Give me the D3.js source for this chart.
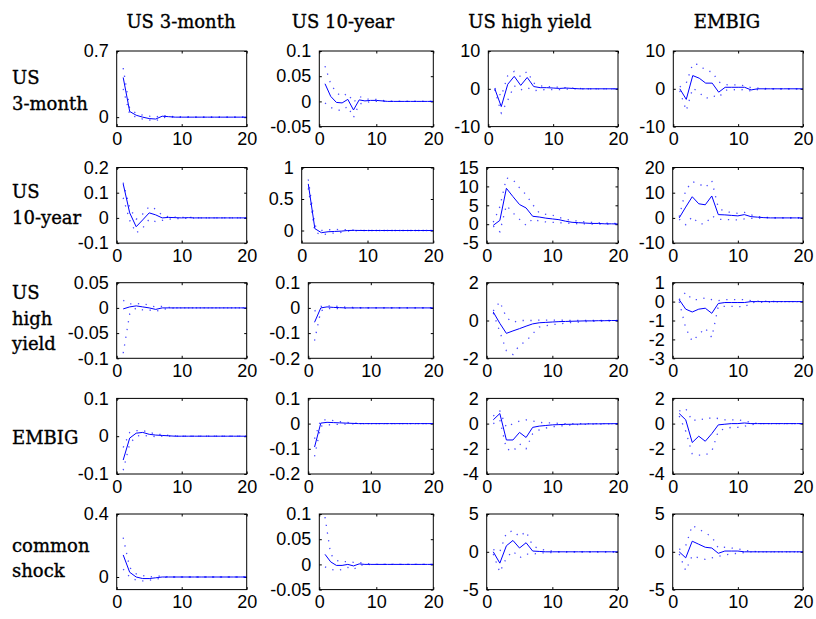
<!DOCTYPE html>
<html>
<head>
<meta charset="utf-8">
<script src="https://cdn.jsdelivr.net/npm/d3@7"></script>
<style>
	body { margin: 0; background: #fff; }
	svg { display: block; }
	.axis text { font-family: "Liberation Sans", Arial, sans-serif; font-size: 18px; fill: #000; }
	.axis line { stroke: #000; }
	.lab { font-family: "DejaVu Serif", serif; font-size: 18px; fill: #000; stroke: #000; stroke-width: 0.35px; }
</style>
</head>
<body>
<svg width="816" height="619"></svg>
<script>
// shocks (columns) and responding variables (rows)
var shocks = ["US 3-month", "US 10-year", "US high yield", "EMBIG"];
var responses = [["US", "3-month"], ["US", "10-year"], ["US", "high", "yield"], ["EMBIG"], ["common", "shock"]];
var horizon = d3.range(1, 21);
var xTicks = [0, 10, 20];

var yDomains = [
	[[-0.1, 0.7], [-0.05, 0.1], [-10, 10], [-10, 10]],
	[[-0.1, 0.2], [-0.2, 1], [-5, 15], [-10, 20]],
	[[-0.1, 0.05], [-0.2, 0.1], [-2, 2], [-3, 1]],
	[[-0.1, 0.1], [-0.2, 0.1], [-4, 2], [-4, 2]],
	[[-0.08, 0.4], [-0.05, 0.1], [-5, 5], [-5, 5]]
];
var yTicks = [
	[[0, 0.7], [-0.05, 0, 0.05, 0.1], [-10, 0, 10], [-10, 0, 10]],
	[[-0.1, 0, 0.1, 0.2], [0, 0.5, 1], [-5, 0, 5, 10, 15], [-10, 0, 10, 20]],
	[[-0.1, -0.05, 0, 0.05], [-0.2, -0.1, 0, 0.1], [-2, 0, 2], [-3, -2, -1, 0, 1]],
	[[-0.1, 0, 0.1], [-0.2, -0.1, 0, 0.1], [-4, -2, 0, 2], [-4, -2, 0, 2]],
	[[0, 0.4], [-0.05, 0, 0.05, 0.1], [-5, 0, 5], [-5, 0, 5]]
];

// row 1: US 3-month responses
var mid1 = [
	[0.42, 0.06, 0.02, 0.0, -0.015, -0.02, 0.01, 0.005, 0, 0, 0, 0, 0, 0, 0, 0, 0, 0, 0, 0],
	[0.035, 0.01, -0.002, -0.003, 0.004, -0.017, 0.003, 0.001, 0.002, 0.002, 0.001, 0, 0, 0, 0, 0, 0, 0, 0, 0],
	[0, -4.7, 1.2, 3.3, 0.9, 3.0, 0.6, 0.3, 0.3, 0.2, 0.1, 0.2, 0.1, 0, 0, 0, 0, 0, 0, 0],
	[0, -2.8, 3.5, 2.8, 1.5, 1.5, -0.9, 0.4, 0.4, 0.4, 0.4, -0.3, 0, 0, 0, 0, 0, 0, 0, 0]
];
var hi1 = [
	[0.52, 0.09, 0.04, 0.02, 0.01, 0.0, 0.02, 0.01, 0.005, 0.003, 0.002, 0.001, 0, 0, 0, 0, 0, 0, 0, 0],
	[0.07, 0.035, 0.017, 0.01, 0.016, -0.002, 0.01, 0.005, 0.004, 0.004, 0.002, 0.001, 0, 0, 0, 0, 0, 0, 0, 0],
	[0.2, -2, 3.5, 4.6, 3.2, 4.6, 1.5, 0.8, 0.6, 0.5, 0.4, 0.3, 0.2, 0.1, 0, 0, 0, 0, 0, 0],
	[0.5, 1.5, 6.6, 6.4, 4.8, 4.5, 1.8, 1.1, 1.0, 1.1, 0.8, 0.3, 0.2, 0.1, 0, 0, 0, 0, 0, 0]
];
var lo1 = [
	[0.30, 0.03, 0.0, -0.02, -0.03, -0.04, -0.005, 0, 0, 0, 0, 0, 0, 0, 0, 0, 0, 0, 0, 0],
	[-0.003, -0.012, -0.017, -0.018, -0.01, -0.032, -0.005, -0.003, 0, 0, 0, 0, 0, 0, 0, 0, 0, 0, 0, 0],
	[-0.2, -6.4, -3, 0.8, -0.3, 0.3, -0.5, -0.3, -0.2, -0.2, -0.2, -0.1, 0, 0, 0, 0, 0, 0, 0, 0],
	[-0.5, -5.8, 0.2, -1.0, -2.6, -1.8, -2.3, -0.4, -0.2, -0.3, -0.2, -0.6, -0.2, -0.1, 0, 0, 0, 0, 0, 0]
];

// row 2: US 10-year responses
var mid2 = [
	[0.135, 0.02, -0.035, -0.008, 0.02, 0.012, 0.0, 0.002, 0.001, 0, 0.001, 0, 0, 0, 0, 0, 0, 0, 0, 0],
	[0.74, 0.03, -0.035, -0.02, -0.015, -0.01, 0.0, 0.002, 0, 0, 0, 0, 0, 0, 0, 0, 0, 0, 0, 0],
	[-0.3, 1.0, 9.5, 7.3, 5.2, 4.3, 2.1, 1.9, 1.6, 1.4, 1.2, 0.8, 0.5, 0.4, 0.3, 0.2, 0.2, 0.1, 0.1, 0.05],
	[0, 4.3, 8.4, 5.6, 5.2, 8.7, 1.3, 1.2, 1.0, 0.8, 1.3, 0.5, 0.3, 0.1, 0, 0, 0, 0, 0, 0]
];
var hi2 = [
	[0.14, 0.04, -0.005, 0.015, 0.045, 0.035, 0.01, 0.005, 0.003, 0.002, 0.002, 0.001, 0, 0, 0, 0, 0, 0, 0, 0],
	[0.81, 0.08, 0.0, 0.01, 0.02, 0.01, 0.015, 0.005, 0.003, 0, 0, 0, 0, 0, 0, 0, 0, 0, 0, 0],
	[0.5, 4.6, 12.2, 11.8, 9.6, 7.8, 5.2, 3.0, 2.6, 2.4, 1.8, 1.3, 1.0, 0.8, 0.6, 0.5, 0.4, 0.3, 0.2, 0.2],
	[0.5, 11, 14.4, 13.6, 12, 14.8, 4, 2.5, 2.2, 1.8, 2.2, 1.2, 0.6, 0.3, 0.1, 0, 0, 0, 0, 0]
];
var lo2 = [
	[0.08, -0.01, -0.06, -0.04, -0.005, -0.015, -0.01, -0.005, -0.003, -0.002, -0.002, -0.001, 0, 0, 0, 0, 0, 0, 0, 0],
	[0.67, -0.02, -0.07, -0.05, -0.04, -0.03, -0.01, -0.005, 0, 0, 0, 0, 0, 0, 0, 0, 0, 0, 0, 0],
	[-0.5, -2.0, 5.0, 3.0, 1.3, -0.3, 1.4, 0.8, 0.6, 0.5, 0.4, 0.3, 0.2, 0.1, 0.1, 0, 0, 0, 0, 0],
	[-0.5, -2.7, 0.5, -2.3, -2.4, 0.8, -0.6, -0.6, -0.7, -0.8, -0.4, -0.2, -0.1, 0, 0, 0, 0, 0, 0, 0]
];

// row 3: US high yield responses
var mid3 = [
	[-0.002, 0.002, 0.004, 0.002, 0, -0.003, 0, 0, 0, 0, 0, 0, 0, 0, 0, 0, 0, 0, 0, 0],
	[-0.057, 0.0, 0.004, 0.002, 0.001, 0, 0, 0, 0, 0, 0, 0, 0, 0, 0, 0, 0, 0, 0, 0],
	[0.45, -0.15, -0.68, -0.55, -0.43, -0.3, -0.18, -0.12, -0.1, -0.08, -0.06, -0.05, -0.04, -0.03, -0.02, -0.02, -0.01, -0.01, 0, 0],
	[0.1, -0.4, -0.55, -0.4, -0.35, -0.62, -0.1, -0.05, -0.05, -0.05, -0.05, 0, 0, 0, 0, 0, 0, 0, 0, 0]
];
var hi3 = [
	[0.015, 0.008, 0.008, 0.009, 0.005, 0.002, 0.003, 0.001, 0, 0, 0, 0, 0, 0, 0, 0, 0, 0, 0, 0],
	[-0.013, 0.006, 0.008, 0.008, 0.005, 0.003, 0.002, 0.001, 0, 0, 0, 0, 0, 0, 0, 0, 0, 0, 0, 0],
	[0.5, 1.0, 0.15, -0.1, 0.0, 0.0, 0.0, 0.02, 0.02, 0.02, 0.02, 0.01, 0.01, 0.01, 0.01, 0.01, 0, 0, 0, 0],
	[0.1, 0.5, 0.1, 0.1, 0.2, 0.1, 0.05, 0.1, 0.1, 0.1, 0.1, 0.05, 0.03, 0.02, 0.01, 0, 0, 0, 0, 0]
];
var lo3 = [
	[-0.09, -0.012, 0.0, -0.004, -0.004, -0.007, -0.003, -0.001, 0, 0, 0, 0, 0, 0, 0, 0, 0, 0, 0, 0],
	[-0.13, -0.012, -0.002, -0.003, -0.003, -0.002, -0.001, 0, 0, 0, 0, 0, 0, 0, 0, 0, 0, 0, 0, 0],
	[0.4, -0.6, -1.6, -1.8, -1.3, -1.1, -0.7, -0.35, -0.28, -0.22, -0.18, -0.14, -0.1, -0.08, -0.06, -0.05, -0.04, -0.03, -0.02, -0.02],
	[0.0, -1.4, -2.1, -1.75, -1.4, -1.9, -0.25, -0.25, -0.25, -0.25, -0.3, -0.05, -0.04, -0.03, -0.02, -0.01, 0, 0, 0, 0]
];

// row 4: EMBIG responses
var mid4 = [
	[-0.063, -0.005, 0.008, 0.01, 0.005, 0.003, 0.002, 0.001, 0, 0, 0, 0, 0, 0, 0, 0, 0, 0, 0, 0],
	[-0.093, 0.002, 0.005, 0.004, 0.003, 0.002, 0.001, 0, 0, 0, 0, 0, 0, 0, 0, 0, 0, 0, 0, 0],
	[0.3, 0.8, -1.3, -1.3, -0.7, -1.1, -0.3, -0.2, -0.15, -0.1, -0.08, -0.06, -0.05, -0.04, -0.03, -0.02, -0.02, -0.01, -0.01, 0],
	[0.8, 0.3, -1.5, -1.0, -1.4, -0.8, -0.1, -0.05, 0, 0, 0.05, 0, 0, 0, 0, 0, 0, 0, 0, 0]
];
var hi4 = [
	[-0.03, 0.01, 0.015, 0.015, 0.01, 0.006, 0.004, 0.002, 0.001, 0, 0, 0, 0, 0, 0, 0, 0, 0, 0, 0],
	[-0.06, 0.015, 0.015, 0.012, 0.008, 0.005, 0.003, 0.001, 0, 0, 0, 0, 0, 0, 0, 0, 0, 0, 0, 0],
	[0.6, 1.0, -0.3, 0.0, 0.2, 0.3, 0.2, 0.1, 0.05, 0.05, 0.02, 0, 0, 0, 0, 0, 0, 0, 0, 0],
	[1.0, 1.2, 0.2, 0.4, 0.3, 0.5, 0.4, 0.3, 0.3, 0.3, 0.2, 0.1, 0, 0, 0, 0, 0, 0, 0, 0]
];
var lo4 = [
	[-0.09, -0.02, 0.0, 0.003, 0.0, -0.001, 0, 0, 0, 0, 0, 0, 0, 0, 0, 0, 0, 0, 0, 0],
	[-0.13, -0.01, -0.005, -0.004, -0.003, -0.002, -0.001, 0, 0, 0, 0, 0, 0, 0, 0, 0, 0, 0, 0, 0],
	[0.0, 0.3, -2.0, -2.2, -1.6, -2.0, -0.8, -0.5, -0.35, -0.25, -0.2, -0.15, -0.1, -0.08, -0.06, -0.05, -0.04, -0.03, -0.02, -0.01],
	[0.6, -0.6, -2.4, -2.5, -2.5, -2.2, -0.6, -0.4, -0.3, -0.3, -0.2, -0.1, 0, 0, 0, 0, 0, 0, 0, 0]
];

// row 5: common shock responses
var mid5 = [
	[0.14, 0.03, 0.0, -0.01, -0.01, -0.005, 0, 0, 0, 0, 0, 0, 0, 0, 0, 0, 0, 0, 0, 0],
	[0.02, 0.005, -0.002, -0.002, 0.0, -0.003, 0.001, 0, 0, 0, 0, 0, 0, 0, 0, 0, 0, 0, 0, 0],
	[0, -1.5, 0.8, 1.5, 0.5, 1.2, 0.1, 0.05, 0, 0, 0, 0, 0, 0, 0, 0, 0, 0, 0, 0],
	[0, -0.8, 1.4, 1.0, 0.6, 0.5, -0.2, 0.1, 0.1, 0.1, 0, 0, 0, 0, 0, 0, 0, 0, 0, 0]
];
var hi5 = [
	[0.25, 0.06, 0.02, 0.01, 0.0, 0.005, 0.005, 0, 0, 0, 0, 0, 0, 0, 0, 0, 0, 0, 0, 0],
	[0.094, 0.02, 0.008, 0.005, 0.006, 0.004, 0.004, 0.002, 0.001, 0, 0, 0, 0, 0, 0, 0, 0, 0, 0, 0],
	[0.3, 0.0, 2.5, 2.8, 2.0, 2.7, 0.8, 0.4, 0.2, 0.1, 0, 0, 0, 0, 0, 0, 0, 0, 0, 0],
	[0.3, 0.8, 3.5, 3.0, 2.5, 2.0, 0.5, 0.6, 0.5, 0.4, 0.2, 0.1, 0, 0, 0, 0, 0, 0, 0, 0]
];
var lo5 = [
	[0.05, 0.0, -0.02, -0.025, -0.02, -0.015, -0.005, 0, 0, 0, 0, 0, 0, 0, 0, 0, 0, 0, 0, 0],
	[-0.005, -0.01, -0.012, -0.01, -0.006, -0.01, -0.002, -0.001, 0, 0, 0, 0, 0, 0, 0, 0, 0, 0, 0, 0],
	[-0.3, -2.7, -0.8, 0.1, -0.8, -0.3, -0.3, -0.2, -0.1, -0.1, 0, 0, 0, 0, 0, 0, 0, 0, 0, 0],
	[-0.3, -2.5, -0.5, -0.8, -1.0, -0.8, -0.6, -0.4, -0.3, -0.2, -0.1, 0, 0, 0, 0, 0, 0, 0, 0, 0]
];

var mids = [mid1, mid2, mid3, mid4, mid5];
var his = [hi1, hi2, hi3, hi4, hi5];
var los = [lo1, lo2, lo3, lo4, lo5];

// layout of the axes boxes
var rowTop = [51, 167.5, 282.7, 398.4, 514];
var boxH = 75.6;
var colRight = [246.7, 433.3, 618, 803];
var colLeft = [
	[116.7, 319.3, 488.3, 673.3],
	[116.7, 301.7, 486.7, 672.7],
	[116.7, 308.3, 486.7, 672.7],
	[116.7, 308.3, 486.7, 672.7],
	[116.7, 319.3, 486.7, 672.7]
];
var titleX = [181, 343, 530, 727];
var labelBase = [[84, 110], [198, 224], [299, 325, 350], [444], [552, 577]];

function drawPanels() {
	var svg = d3.select("svg");
	var fmt = function(d) { return String(d); };

	// column titles
	svg.selectAll("text.title")
		.data(shocks)
		.enter().append("text")
		.attr("class", "lab title")
		.attr("x", function(d, i) { return titleX[i]; })
		.attr("y", 28)
		.attr("text-anchor", "middle")
		.text(function(d) { return d; });

	// row labels
	responses.forEach(function(lines, r) {
		lines.forEach(function(t, j) {
			svg.append("text")
				.attr("class", "lab")
				.attr("x", 12)
				.attr("y", labelBase[r][j])
				.text(t);
		});
	});

	var line = d3.line();

	for (var r = 0; r < 5; r++) {
		for (var c = 0; c < 4; c++) {
			var x0 = colLeft[r][c], x1 = colRight[c];
			var y0 = rowTop[r], y1 = y0 + boxH;
			var x = d3.scaleLinear().domain([0, 20]).range([x0, x1]);
			var y = d3.scaleLinear().domain(yDomains[r][c]).range([y1, y0]);
			var g = svg.append("g");

			// axes with inward ticks, MATLAB style
			g.append("g").attr("class", "axis")
				.attr("transform", "translate(" + x0 + ",0)")
				.call(d3.axisLeft(y).tickValues(yTicks[r][c]).tickSizeInner(-2.5).tickSizeOuter(0).tickPadding(8).tickFormat(fmt))
				.call(function(a) { a.select(".domain").remove(); });
			g.append("g").attr("class", "axis")
				.attr("transform", "translate(" + x1 + ",0)")
				.call(d3.axisRight(y).tickValues(yTicks[r][c]).tickSizeInner(-2.5).tickSizeOuter(0).tickFormat(""))
				.call(function(a) { a.select(".domain").remove(); });
			g.append("g").attr("class", "axis")
				.attr("transform", "translate(0," + y1 + ")")
				.call(d3.axisBottom(x).tickValues(xTicks).tickSizeInner(-2.5).tickSizeOuter(0).tickPadding(6).tickFormat(fmt))
				.call(function(a) { a.select(".domain").remove(); });
			g.append("g").attr("class", "axis")
				.attr("transform", "translate(0," + y0 + ")")
				.call(d3.axisTop(x).tickValues(xTicks).tickSizeInner(-2.5).tickSizeOuter(0).tickFormat(""))
				.call(function(a) { a.select(".domain").remove(); });

			line.x(function(d, i) { return x(horizon[i]); }).y(function(d) { return y(d); });

			[his[r][c], los[r][c]].forEach(function(band) {
				g.append("path")
					.datum(band)
					.attr("d", line)
					.attr("fill", "none")
					.attr("stroke", "#0000ff")
					.attr("stroke-width", 1.3)
					.attr("stroke-dasharray", "1.3,6.5")
					.attr("opacity", 0.7);
			});
			g.append("path")
				.datum(mids[r][c])
				.attr("d", line)
				.attr("fill", "none")
				.attr("stroke", "#0000ff")
				.attr("stroke-width", 1);

			g.append("rect")
				.attr("x", x0).attr("y", y0)
				.attr("width", x1 - x0).attr("height", boxH)
				.attr("fill", "none")
				.attr("stroke", "#000")
				.attr("stroke-width", 1);
		}
	}
}

drawPanels();
</script>
</body>
</html>
